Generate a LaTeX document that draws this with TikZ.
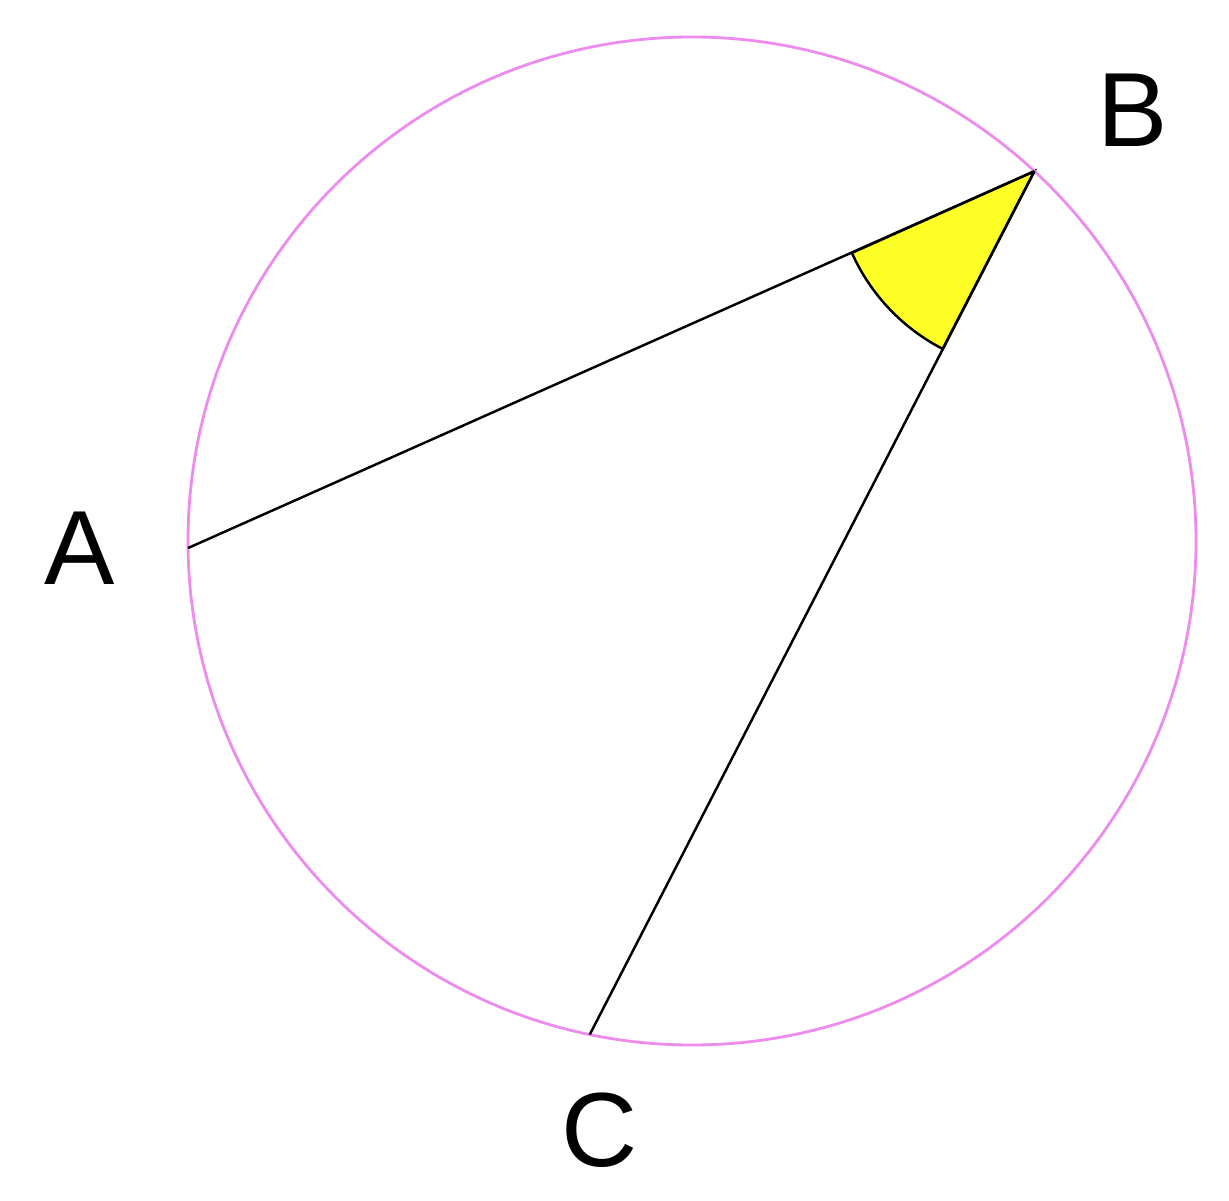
\documentclass[tikz,border=0pt]{standalone}
\usepackage{fontspec}
\setmainfont{Liberation Sans}
\usepackage{xcolor}
\usetikzlibrary{calc}
\definecolor{rimviolet}{RGB}{238,140,238}
\definecolor{angleyellow}{RGB}{255,255,40}

\begin{document}
\begin{tikzpicture}[
  x=1cm,y=1cm,
  rim/.style={draw=rimviolet, line width=0.8pt},
  chord/.style={draw=black, line width=0.7pt},
  wedge/.style={draw=black, fill=angleyellow, line width=0.7pt},
  lbl/.style={font=\fontsize{30}{36}\selectfont, inner sep=0pt}
]
\useasboundingbox (0,0) rectangle (12.29,12.00);

% ---- circle and points on it ----
\coordinate (O) at (6.92,6.59);
\coordinate (A) at ($(O)+(180.8:5.04)$);
\coordinate (B) at ($(O)+(47.2:5.04)$);
\coordinate (C) at ($(O)+(258.3:5.04)$);

% ---- angle at B ----
\draw[wedge] (B) -- ($(B)+(204.1:2.0)$) arc[start angle=204.1, end angle=242.7, radius=2.0] -- cycle;

\draw[rim] (O) circle[radius=5.04];

% ---- chords ----
\draw[chord] (A) -- (B);
\draw[chord] (B) -- (C);

% ---- labels ----
\node[lbl] (labA) at (0.80,6.52)  {A};
\node[lbl] (labB) at (11.33,10.90) {B};
\node[lbl] (labC) at (6.00,0.70)  {C};

\end{tikzpicture}
\end{document}
